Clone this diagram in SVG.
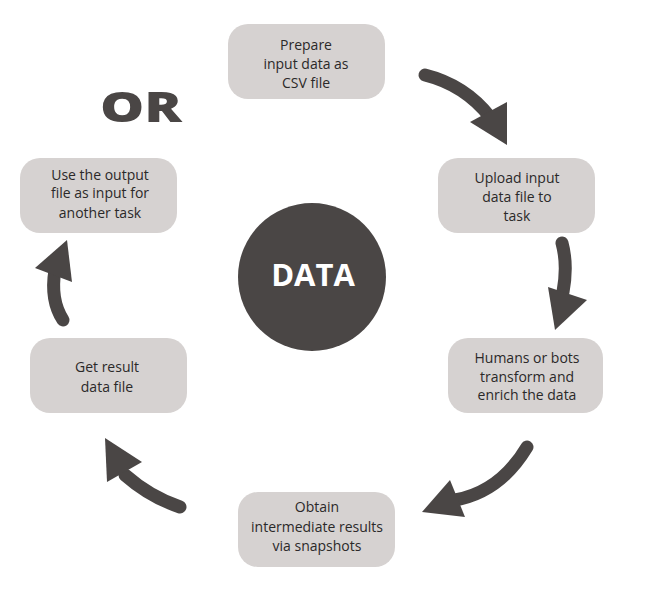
<svg xmlns="http://www.w3.org/2000/svg" width="657" height="590" viewBox="0 0 657 590">
<style>
.box{fill:#d6d2d1;}
.lbl{font-family:"Open Sans","Liberation Sans",sans-serif;font-size:14px;fill:#2b2929;text-anchor:middle;}
.shaft{fill:none;stroke:#4a4645;stroke-width:13;stroke-linecap:round;}
.head{fill:#4a4645;}
</style>
<rect width="657" height="590" fill="#ffffff"/>
<g id="connectors">
<path class="shaft" d="M425,75 Q465,85 490,117"/>
<polygon class="head" points="470,122 507,102 507,145"/>
<path class="shaft" d="M562,243 Q568,265 563,292"/>
<polygon class="head" points="548,287 587,300 555,330"/>
<path class="shaft" d="M527,447 Q500,492 455,500"/>
<polygon class="head" points="450,480 465,517 422,512"/>
<path class="shaft" d="M180,507 Q150,497 125,475"/>
<polygon class="head" points="105,438 107,482 142,462"/>
<path class="shaft" d="M63,320 Q50,300 55,270"/>
<polygon class="head" points="67,240 35,268 72,282"/>
</g>
<g id="or"><text x="100" y="122" textLength="82" lengthAdjust="spacingAndGlyphs" font-family="'Open Sans','Liberation Sans',sans-serif" font-weight="800" font-size="42" fill="#4a4645">OR</text></g>
<g id="data">
<circle cx="312" cy="277" r="74" fill="#4a4645"/>
<text x="313" y="286" font-family="'Open Sans','Liberation Sans',sans-serif" font-weight="bold" font-size="31" fill="#ffffff" text-anchor="middle">DATA</text>
</g>
<g id="n1">
<rect class="box" x="228" y="24" width="157" height="75" rx="20"/>
<text class="lbl" x="306" y="50">Prepare</text>
<text class="lbl" x="306" y="69">input data as</text>
<text class="lbl" x="306" y="88">CSV file</text>
</g>
<g id="n2">
<rect class="box" x="438" y="158" width="157" height="75" rx="20"/>
<text class="lbl" x="517" y="183">Upload input</text>
<text class="lbl" x="517" y="202">data file to</text>
<text class="lbl" x="517" y="221">task</text>
</g>
<g id="n3">
<rect class="box" x="448" y="338" width="155" height="75" rx="20"/>
<text class="lbl" x="527" y="363">Humans or bots</text>
<text class="lbl" x="527" y="382">transform and</text>
<text class="lbl" x="527" y="400">enrich the data</text>
</g>
<g id="n4">
<rect class="box" x="238" y="492" width="157" height="75" rx="20"/>
<text class="lbl" x="317" y="512">Obtain</text>
<text class="lbl" x="317" y="532">intermediate results</text>
<text class="lbl" x="317" y="551">via snapshots</text>
</g>
<g id="n5">
<rect class="box" x="30" y="338" width="157" height="75" rx="20"/>
<text class="lbl" x="107" y="372">Get result</text>
<text class="lbl" x="107" y="392">data file</text>
</g>
<g id="n6">
<rect class="box" x="20" y="158" width="157" height="75" rx="20"/>
<text class="lbl" x="100" y="180">Use the output</text>
<text class="lbl" x="100" y="198">file as input for</text>
<text class="lbl" x="100" y="218">another task</text>
</g>
</svg>
